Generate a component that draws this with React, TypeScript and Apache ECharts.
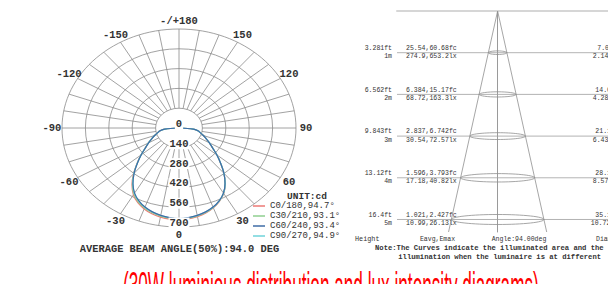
import { useEffect, useRef } from 'react';
import * as echarts from 'echarts';

// ---------- Data ----------
const ANGLES = [-90, -85, -80, -75, -70, -65, -60, -55, -50, -45, -40, -35, -30, -25, -20, -15, -10, -5, 0, 5, 10, 15, 20, 25, 30, 35, 40, 45, 50, 55, 60, 65, 70, 75, 80, 85, 90];
const C0_180 = [0, 86, 116, 134, 156, 181, 212, 247, 297, 356, 424, 490, 546, 583, 609, 628, 640, 647, 648, 645, 636, 622, 601, 572, 535, 482, 419, 352, 295, 245, 210, 180, 155, 133, 115, 85, 0];
const C30_210 = [0, 85, 115, 133, 155, 180, 211, 246, 296, 354, 421, 486, 540, 577, 603, 621, 633, 640, 643, 640, 631, 618, 598, 570, 533, 481, 418, 352, 295, 245, 210, 180, 155, 133, 115, 85, 0];
const C60_240 = [0, 85, 115, 133, 155, 180, 210, 245, 295, 352, 418, 480, 532, 568, 595, 614, 627, 636, 640, 636, 627, 614, 595, 568, 532, 480, 418, 352, 295, 245, 210, 180, 155, 133, 115, 85, 0];
const C90_270 = [0, 84, 114, 133, 156, 181, 211, 246, 296, 353, 419, 481, 533, 569, 596, 615, 628, 637, 641, 637, 628, 615, 596, 569, 533, 482, 420, 354, 296, 246, 211, 181, 156, 134, 116, 86, 0];
const CURVES = [C0_180, C30_210, C60_240, C90_270];
const SERIES_NAMES = ['C0/180,94.7°', 'C30/210,93.1°', 'C60/240,93.4°', 'C90/270,94.9°'];
const SERIES_COLORS = ['#ec7a76', '#8fcf8f', '#3f6ca6', '#6fd3da'];
const SERIES_Z = [5, 6, 8, 7];

const RING_VALUES = [140, 280, 420, 560, 700];
const RADIAL_LABELS = [0, 140, 280, 420, 560, 700];
const SPOKE_ANGLES = [-170, -160, -150, -140, -130, -120, -110, -100, -90, -80, -70, -60, -50, -40, -30, -20, -10, 0, 10, 20, 30, 40, 50, 60, 70, 80, 90, 100, 110, 120, 130, 140, 150, 160, 170, 180];
const ANGLE_LABELS = [-150, -120, -90, -60, -30, 0, 30, 60, 90, 120, 150, 180];

const BEAM_ANGLE = 94;
const HEIGHTS_M = [1, 2, 3, 4, 5];
const HEIGHTS_FT = ['3.281ft', '6.562ft', '9.843ft', '13.12ft', '16.4ft'];
const E_FC = ['25.54,60.68fc', '6.384,15.17fc', '2.837,6.742fc', '1.596,3.793fc', '1.021,2.427fc'];
const E_LX = ['274.9,653.2lx', '68.72,163.3lx', '30.54,72.57lx', '17.18,40.82lx', '10.99,26.13lx'];
const DIAM_M = [2.14, 4.28, 6.43, 8.57, 10.72];
const DIAM_FT = ['7.03ft', '14.07ft', '21.10ft', '28.14ft', '35.17ft'];
const CONE_DEPTH = 5.3;

const MONO = '"Liberation Mono", "DejaVu Sans Mono", monospace';

const rad = (a: number) => (a * Math.PI) / 180;
const toXY = (a: number, r: number) => [r * Math.sin(rad(a)), r * Math.cos(rad(a))];

function txt(text: string, align: string, vAlign: string, size: number, weight: string, color: string) {
  return {
    text,
    fill: color,
    fontSize: size,
    fontFamily: MONO,
    fontWeight: weight,
    align,
    textAlign: align,
    verticalAlign: vAlign,
    textVerticalAlign: vAlign,
  };
}

export default function App() {
  const ref = useRef<HTMLDivElement>(null);
  useEffect(() => {
    if (!ref.current) return;
    const chart = echarts.init(ref.current, null, { renderer: 'svg' });

    const half = CONE_DEPTH * Math.tan(rad(BEAM_ANGLE / 2));

    const curveSeries = CURVES.map((vals, k) => ({
      type: 'line',
      name: SERIES_NAMES[k],
      xAxisIndex: 0,
      yAxisIndex: 0,
      data: ANGLES.map((a, i) => toXY(a, vals[i])),
      symbol: 'none',
      smooth: 0.3,
      lineStyle: { width: 1.2, color: SERIES_COLORS[k] },
      itemStyle: { color: SERIES_COLORS[k] },
      z: SERIES_Z[k],
    }));

    const option: any = {
      animation: false,
      legend: {
        data: SERIES_NAMES,
        orient: 'vertical',
        left: 253,
        top: 201,
        icon: 'rect',
        itemWidth: 12,
        itemHeight: 1.5,
        itemGap: 0,
        padding: 0,
        selectedMode: false,
        textStyle: { fontFamily: MONO, fontSize: 9, color: '#333', lineHeight: 10 },
      },
      grid: [
        { left: 62, top: 29, width: 234, height: 198 },
        { left: 397, top: 11, width: 251, height: 221 },
      ],
      xAxis: [
        { gridIndex: 0, type: 'value', min: -700, max: 700, show: false },
        {
          gridIndex: 1, type: 'value', min: -11.655, max: 12.785, position: 'top',
          axisLine: { show: true, lineStyle: { color: '#d6d6d6', width: 2 } },
          axisTick: { show: false }, axisLabel: { show: false }, splitLine: { show: false },
        },
      ],
      yAxis: [
        { gridIndex: 0, type: 'value', min: -700, max: 700, inverse: true, show: false },
        {
          gridIndex: 1, type: 'value', min: 0, max: CONE_DEPTH, interval: 1, inverse: true, position: 'left',
          axisLine: { show: true, lineStyle: { color: '#9a9a9a', width: 1 } },
          axisTick: { show: false }, splitLine: { show: false },
          axisLabel: {
            margin: 5, fontFamily: MONO, fontSize: 6.5, lineHeight: 8.4, color: '#333',
            formatter: (v: number) => {
              const i = HEIGHTS_M.indexOf(v);
              return i >= 0 ? `${HEIGHTS_FT[i]}\n${HEIGHTS_M[i]}m` : '';
            },
          },
        },
        {
          gridIndex: 1, type: 'value', min: 0, max: CONE_DEPTH, interval: 1, inverse: true, position: 'left',
          axisLine: { show: false }, axisTick: { show: false }, splitLine: { show: false },
          axisLabel: {
            inside: true, margin: 9, fontFamily: MONO, fontSize: 6.5, lineHeight: 8.4, color: '#333',
            formatter: (v: number) => {
              const i = HEIGHTS_M.indexOf(v);
              return i >= 0 ? `${E_FC[i]}\n${E_LX[i]}` : '';
            },
          },
        },
      ],
      graphic: [
        { type: 'text', x: 307, y: 196, style: txt('UNIT:cd', 'center', 'middle', 9.5, 'bold', '#333') },
        { type: 'text', x: 179.5, y: 248.5, style: txt('AVERAGE BEAM ANGLE(50%):94.0 DEG', 'center', 'middle', 10.4, 'bold', '#333') },
        { type: 'text', x: 355, y: 239, style: txt('Height', 'left', 'middle', 6.8, 'normal', '#333') },
        { type: 'text', x: 437.5, y: 239, style: txt('Eavg,Emax', 'center', 'middle', 6.5, 'normal', '#333') },
        { type: 'text', x: 519, y: 239, style: txt('Angle:94.00deg', 'center', 'middle', 6.5, 'normal', '#333') },
        { type: 'text', x: 596, y: 239, style: txt('Diameter', 'left', 'middle', 6.5, 'normal', '#333') },
        { type: 'text', x: 375, y: 248.3, style: txt('Note:The Curves indicate the illuminated area and the', 'left', 'middle', 7.2, 'bold', '#333') },
        { type: 'text', x: 398.3, y: 256.5, style: txt('illumination when the luminaire is at different', 'left', 'middle', 7.2, 'bold', '#333') },
        {
          type: 'text', x: 123, y: 265, scaleY: 2.3, originX: 0, originY: 0,
          style: {
            text: '(30W luminious distribution and lux intensity diagrams)',
            fill: '#ff0000', fontSize: 17.2, fontFamily: '"Liberation Sans", Arial, sans-serif',
            align: 'left', textAlign: 'left', verticalAlign: 'top', textVerticalAlign: 'top',
          },
        },
      ],
      series: [
        {
          type: 'custom', xAxisIndex: 0, yAxisIndex: 0, silent: true, z: 1,
          data: RING_VALUES.map((v) => [v, 0]),
          renderItem: (_p: any, api: any) => {
            const r = api.value(0);
            const c = api.coord([0, 0]);
            const s = api.size([r, r]);
            return {
              type: 'ellipse',
              shape: { cx: c[0], cy: c[1], rx: s[0], ry: s[1] },
              style: { fill: 'none', stroke: '#8a8a8a', lineWidth: 0.8 },
            };
          },
        },
        {
          type: 'custom', xAxisIndex: 0, yAxisIndex: 0, silent: true, z: 1,
          data: SPOKE_ANGLES.map((a) => [a, 0]),
          renderItem: (_p: any, api: any) => {
            const a = api.value(0);
            const p1 = api.coord(toXY(a, RING_VALUES[0]));
            const p2 = api.coord(toXY(a, RING_VALUES[RING_VALUES.length - 1]));
            return {
              type: 'line',
              shape: { x1: p1[0], y1: p1[1], x2: p2[0], y2: p2[1] },
              style: { stroke: '#8a8a8a', lineWidth: 0.8 },
            };
          },
        },
        ...curveSeries,
        {
          type: 'custom', xAxisIndex: 0, yAxisIndex: 0, silent: true, z: 20,
          data: ANGLE_LABELS.map((a) => [a, 0]),
          renderItem: (_p: any, api: any) => {
            const a = api.value(0);
            const p = api.coord(toXY(a, 760));
            return {
              type: 'text', x: p[0], y: p[1],
              style: txt(a === 180 ? '-/+180' : String(a), 'center', 'middle', 10.5, 'bold', '#333'),
            };
          },
        },
        {
          type: 'custom', xAxisIndex: 0, yAxisIndex: 0, silent: true, z: 20,
          data: RADIAL_LABELS.map((v) => [v, 0]),
          renderItem: (_p: any, api: any) => {
            const v = api.value(0);
            const p = api.coord([0, v]);
            return {
              type: 'text', x: p[0], y: p[1] - 4,
              style: { ...txt(String(v), 'center', 'middle', 10.5, 'bold', '#333'), backgroundColor: '#fff', padding: [0, 1] },
            };
          },
        },
        {
          type: 'line', xAxisIndex: 1, yAxisIndex: 1, silent: true, symbol: 'none', z: 3,
          data: [[-half, CONE_DEPTH], [0, 0], [half, CONE_DEPTH]],
          lineStyle: { color: '#8f8f8f', width: 0.8 },
        },
        {
          type: 'custom', xAxisIndex: 1, yAxisIndex: 1, silent: true, z: 2,
          data: HEIGHTS_M.map((h, i) => [0, h, DIAM_M[i]]),
          renderItem: (params: any, api: any) => {
            const i = params.dataIndex;
            const h = api.value(1);
            const d = api.value(2);
            const c = api.coord([0, h]);
            const cs = params.coordSys;
            const rx = api.size([d, 0])[0] / 2;
            const ry = 1 + 0.8 * h;
            return {
              type: 'group',
              children: [
                { type: 'line', shape: { x1: cs.x, y1: c[1], x2: cs.x + cs.width, y2: c[1] }, style: { stroke: '#a0a0a0', lineWidth: 0.8 } },
                { type: 'ellipse', shape: { cx: c[0], cy: c[1], rx, ry }, style: { fill: 'none', stroke: '#8f8f8f', lineWidth: 0.8 } },
                { type: 'text', x: cs.x + 212, y: c[1] - 4.2, style: txt(DIAM_FT[i], 'center', 'middle', 6.5, 'normal', '#333') },
                { type: 'text', x: cs.x + 205.5, y: c[1] + 4.2, style: txt(`${DIAM_M[i].toFixed(2)}m`, 'center', 'middle', 6.5, 'normal', '#333') },
              ],
            };
          },
        },
      ],
    };
    chart.setOption(option);
    return () => chart.dispose();
  }, []);
  return <div ref={ref} style={{ position: 'fixed', left: 0, top: 0, width: 608, height: 284, background: '#fff' }} />;
}
